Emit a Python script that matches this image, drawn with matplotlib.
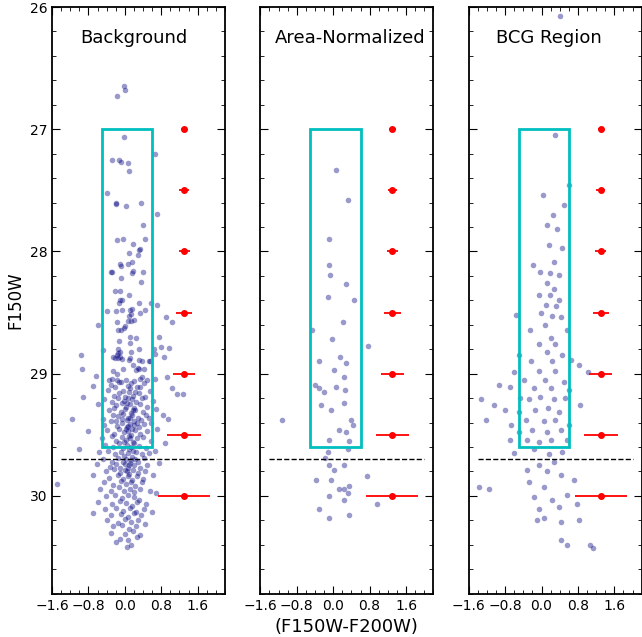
import numpy as np
import matplotlib
matplotlib.use("Agg")
import matplotlib.pyplot as plt
from matplotlib.patches import Rectangle
from matplotlib.ticker import MultipleLocator

# (F150W-F200W, F150W) de cada fuente
fondo = [
    (-0.01, 26.65), (0.0, 26.68), (-0.17, 26.73), (-0.02, 27.06), (0.66, 27.2), (-0.29, 27.25),
    (-0.12, 27.25), (-0.09, 27.27), (0.08, 27.28), (0.09, 27.34), (-0.39, 27.52), (-0.2, 27.6),
    (-0.19, 27.61), (0.02, 27.63), (0.36, 27.6), (0.7, 27.69), (0.39, 27.78), (-0.17, 27.91),
    (-0.03, 27.9), (0.45, 27.9), (0.17, 27.94), (0.33, 27.98),
    (0.09, 28.01), (0.28, 28.03), (0.31, 27.99), (-0.1, 28.1), (-0.09, 28.12), (0.07, 28.1),
    (0.15, 28.09), (-0.31, 28.17), (-0.28, 28.17), (0.17, 28.16), (0.16, 28.18), (0.4, 28.17),
    (-0.08, 28.22), (0.36, 28.25), (-0.22, 28.32), (-0.11, 28.32), (0.09, 28.36), (-0.1, 28.4),
    (-0.13, 28.42), (-0.07, 28.4), (0.31, 28.42), (0.57, 28.42), (0.71, 28.44), (-0.4, 28.49),
    (-0.2, 28.49), (-0.07, 28.48), (0.12, 28.48), (0.15, 28.47), (0.13, 28.51), (0.34, 28.5),
    (0.45, 28.48), (0.9, 28.54), (1.04, 28.58), (0.09, 28.53), (0.06, 28.57), (0.13, 28.57),
    (0.2, 28.56), (-0.17, 28.58), (-0.6, 28.6), (0.0, 28.61), (-0.02, 28.63), (-0.15, 28.64),
    (-0.09, 28.64), (0.11, 28.7), (0.24, 28.71), (-0.13, 28.73), (0.75, 28.7), (0.11, 28.75),
    (0.31, 28.8), (0.64, 28.8), (0.79, 28.78), (0.98, 28.79), (-0.97, 28.85), (-0.48, 28.81),
    (-0.14, 28.8), (-0.1, 28.82), (-0.16, 28.83), (0.14, 28.82), (0.09, 28.89), (0.12, 28.87),
    (-0.26, 28.86), (-0.22, 28.87), (-0.17, 28.85), (-0.14, 28.87), (-0.1, 28.86), (-0.06, 28.88),
    (0.32, 28.89), (0.37, 28.9), (0.52, 28.9), (0.55, 28.9), (0.66, 28.84), (0.86, 28.86),
    (-0.95, 28.96), (-0.04, 28.96), (0.17, 28.93), (0.29, 28.95), (0.24, 28.97), (0.32, 28.96),
    (0.41, 28.96), (-0.26, 28.98), (-0.18, 29.0), (-0.63, 29.02), (-0.35, 29.05), (-0.28, 29.04),
    (-0.17, 29.05), (-0.12, 29.07), (0.03, 29.05), (0.2, 29.06), (0.33, 29.04), (0.38, 29.03),
    (0.48, 29.05), (0.66, 29.04), (0.92, 29.03), (-0.69, 29.1), (1.04, 29.12), (-0.92, 29.19),
    (1.15, 29.17), (1.27, 29.17), (-0.6, 29.25), (0.83, 29.34), (0.95, 29.37), (-1.16, 29.37),
    (-0.31, 29.09), (-0.09, 29.07), (0.06, 29.1), (0.14, 29.08), (0.27, 29.11), (0.43, 29.08),
    (-0.37, 29.13), (-0.21, 29.11), (-0.04, 29.14), (0.11, 29.12), (0.23, 29.15), (0.34, 29.11), (0.56, 29.14),
    (-0.24, 29.18), (-0.13, 29.16), (0.01, 29.19), (0.09, 29.15), (0.17, 29.18), (0.31, 29.16), (0.44, 29.19),
    (-0.46, 29.21), (-0.29, 29.23), (-0.14, 29.2), (-0.02, 29.22), (0.05, 29.24), (0.15, 29.21),
    (0.25, 29.23), (0.37, 29.2), (0.61, 29.22), (0.08, 29.2),
    (-0.19, 29.26), (-0.07, 29.24), (0.03, 29.27), (0.11, 29.25), (0.21, 29.28), (0.33, 29.25), (0.49, 29.27),
    (-0.34, 29.3), (-0.23, 29.28), (-0.09, 29.31), (0.01, 29.29), (0.13, 29.32), (0.23, 29.3),
    (0.39, 29.31), (0.69, 29.29), (0.17, 29.3),
    (-0.27, 29.34), (-0.14, 29.35), (-0.03, 29.33), (0.06, 29.36), (0.16, 29.34), (0.29, 29.36), (0.46, 29.34),
    (-0.49, 29.37), (-0.19, 29.39), (-0.07, 29.37), (0.04, 29.38), (0.11, 29.36), (0.21, 29.39),
    (0.36, 29.38), (0.54, 29.36),
    (-0.46, 29.42), (-0.31, 29.39), (-0.17, 29.43), (-0.06, 29.4), (0.04, 29.44), (0.11, 29.41),
    (0.19, 29.42), (0.27, 29.4), (0.31, 29.44), (0.43, 29.41), (0.57, 29.4), (0.08, 29.43), (0.15, 29.45),
    (-0.82, 29.47), (-0.39, 29.46), (-0.24, 29.49), (-0.12, 29.45), (-0.02, 29.48), (0.06, 29.47),
    (0.14, 29.5), (0.22, 29.46), (0.33, 29.49), (0.49, 29.47), (0.71, 29.45), (0.02, 29.45),
    (-0.51, 29.53), (-0.29, 29.51), (-0.19, 29.55), (-0.07, 29.52), (0.03, 29.54), (0.09, 29.51),
    (0.17, 29.56), (0.26, 29.53), (0.39, 29.52), (0.58, 29.55), (0.12, 29.53), (-0.01, 29.56),
    (-0.43, 29.58), (-0.26, 29.6), (-0.13, 29.57), (-0.03, 29.61), (0.05, 29.58), (0.13, 29.6),
    (0.21, 29.57), (0.31, 29.59), (0.47, 29.61), (0.89, 29.57), (0.09, 29.62), (0.18, 29.63),
    (-1.01, 29.62), (-0.56, 29.64), (-0.36, 29.63), (-0.21, 29.66), (-0.09, 29.64), (-0.01, 29.67),
    (0.08, 29.65), (0.16, 29.68), (0.24, 29.64), (0.37, 29.66), (0.53, 29.65), (0.66, 29.63),
    (-0.47, 29.7), (-0.29, 29.72), (-0.16, 29.69), (-0.05, 29.72), (0.03, 29.7), (0.12, 29.73),
    (0.22, 29.7), (0.29, 29.72), (0.42, 29.69), (0.14, 29.71),
    (-0.61, 29.74), (-0.33, 29.76), (-0.2, 29.74), (-0.1, 29.77), (0.0, 29.74), (0.07, 29.77),
    (0.19, 29.75), (0.33, 29.77), (0.49, 29.75), (0.74, 29.73), (0.1, 29.75),
    (-0.41, 29.8), (-0.23, 29.78), (-0.11, 29.81), (0.01, 29.79), (0.09, 29.82), (0.17, 29.79),
    (0.28, 29.81), (0.44, 29.8), (0.05, 29.8),
    (-0.69, 29.83), (-0.34, 29.85), (-0.14, 29.83), (-0.04, 29.86), (0.07, 29.84), (0.15, 29.87),
    (0.27, 29.84), (0.4, 29.86), (0.61, 29.83),
    (-0.46, 29.89), (-0.26, 29.91), (-0.09, 29.88), (0.03, 29.9), (0.13, 29.89), (0.23, 29.92), (0.37, 29.89),
    (-1.48, 29.9), (-0.54, 29.94), (-0.31, 29.96), (-0.13, 29.93), (-0.01, 29.96), (0.11, 29.94),
    (0.21, 29.97), (0.34, 29.94), (0.56, 29.96),
    (-0.41, 30.0), (-0.21, 29.99), (-0.06, 30.02), (0.07, 29.99), (0.19, 30.01), (0.31, 30.03), (0.69, 29.98),
    (-0.59, 30.05), (-0.29, 30.07), (-0.11, 30.04), (0.03, 30.06), (0.16, 30.08), (0.27, 30.05), (0.46, 30.07),
    (-0.44, 30.11), (-0.19, 30.1), (-0.03, 30.12), (0.11, 30.1), (0.24, 30.13), (0.41, 30.11),
    (-0.71, 30.14), (-0.31, 30.16), (-0.09, 30.15), (0.06, 30.17), (0.19, 30.14), (0.36, 30.16), (0.59, 30.13),
    (-0.39, 30.2), (-0.16, 30.22), (0.01, 30.19), (0.14, 30.21), (0.29, 30.2),
    (-0.26, 30.25), (-0.06, 30.24), (0.09, 30.27), (0.24, 30.25), (0.44, 30.23),
    (-0.31, 30.3), (0.01, 30.31), (0.17, 30.29), (0.34, 30.32),
    (-0.11, 30.35), (0.07, 30.36), (0.26, 30.34), (-0.19, 30.38), (0.14, 30.4), (0.04, 30.42),
]

area_norm = [
    (0.07, 27.33), (0.33, 27.58), (-0.09, 27.9), (-0.09, 28.11), (-0.07, 28.19), (0.28, 28.27),
    (-0.11, 28.37), (0.46, 28.4), (0.22, 28.58), (-0.46, 28.64), (-0.02, 28.72), (0.76, 28.77),
    (0.15, 28.86), (-0.31, 28.9), (0.28, 28.91), (0.02, 28.97), (0.24, 29.03), (-0.41, 29.09),
    (-0.31, 29.12), (-0.2, 29.15), (0.07, 29.11), (0.26, 29.13), (-1.13, 29.38), (-0.26, 29.26),
    (-0.04, 29.3), (0.24, 29.24), (0.39, 29.38), (0.44, 29.42), (0.13, 29.46), (0.28, 29.48),
    (-0.09, 29.54), (0.35, 29.55), (-0.11, 29.64), (-0.17, 29.69), (0.33, 29.62), (-0.09, 29.75),
    (0.02, 29.79), (0.24, 29.75), (-0.04, 29.87), (0.74, 29.84), (-0.37, 29.87), (0.13, 29.94),
    (0.24, 29.94), (0.33, 29.98), (0.35, 29.92), (-0.09, 30.0), (0.24, 30.03), (0.96, 30.07),
    (-0.31, 30.11), (0.35, 30.16), (-0.09, 30.18),
]

bcg = [
    (0.4, 26.07), (0.29, 27.05), (0.6, 27.46), (0.03, 27.54), (0.49, 27.62), (0.25, 27.7),
    (0.12, 27.78), (0.34, 27.82), (0.16, 27.95), (0.45, 27.97), (-0.19, 28.11), (0.27, 28.09),
    (-0.03, 28.17), (0.18, 28.18), (0.38, 28.19), (0.12, 28.26), (0.27, 28.31), (-0.06, 28.36),
    (0.18, 28.36), (0.38, 28.4), (0.1, 28.44), (0.32, 28.45), (-0.56, 28.52), (-0.01, 28.5),
    (0.23, 28.53), (0.42, 28.54), (-0.25, 28.64), (0.07, 28.6), (0.55, 28.64), (0.2, 28.71),
    (-0.06, 28.76), (0.29, 28.76), (-0.49, 28.85), (0.12, 28.82), (0.45, 28.85), (-0.23, 28.9),
    (0.23, 28.9), (0.64, 28.89), (0.82, 28.93), (-0.6, 28.99), (-0.06, 28.98), (0.29, 28.98),
    (-0.38, 29.05), (0.07, 29.05), (0.49, 29.07), (1.03, 28.99), (-0.93, 29.09), (-0.69, 29.11),
    (-0.16, 29.12), (0.2, 29.12), (0.6, 29.13), (-1.32, 29.21), (-1.04, 29.26), (-0.47, 29.2),
    (-0.27, 29.21), (-0.03, 29.19), (0.27, 29.21), (0.51, 29.2), (-0.8, 29.3), (-0.49, 29.31),
    (-0.14, 29.3), (0.14, 29.28), (0.38, 29.31), (0.84, 29.26), (-1.21, 29.38), (-0.67, 29.42),
    (-0.34, 29.38), (0.05, 29.39), (0.29, 29.38), (0.6, 29.42), (-0.49, 29.48), (-0.21, 29.46),
    (0.12, 29.48), (0.42, 29.46), (-0.69, 29.54), (-0.32, 29.54), (-0.06, 29.56), (0.2, 29.54),
    (0.55, 29.54), (-0.6, 29.65), (-0.16, 29.62), (0.16, 29.66), (0.45, 29.64), (-0.06, 29.75),
    (0.27, 29.72), (-0.32, 29.79), (0.12, 29.8), (0.42, 29.83), (-1.37, 29.93), (-1.15, 29.94),
    (-0.27, 29.89), (0.05, 29.93), (0.71, 29.87), (-0.16, 30.01), (0.23, 30.03), (0.55, 29.99),
    (-0.06, 30.11), (0.38, 30.09), (0.77, 30.07), (0.82, 30.2), (0.05, 30.18), (0.42, 30.21),
    (-0.1, 30.2), (0.42, 30.36), (0.55, 30.4), (1.07, 30.4), (1.12, 30.43),
]

# errores fotométricos típicos por magnitud
err_mag = [27.0, 27.5, 28.0, 28.5, 29.0, 29.5, 30.0]
err_color = [0.07, 0.10, 0.12, 0.18, 0.25, 0.37, 0.57]
err_x = 1.3

paneles = [("Background", fondo, -0.98), ("Area-Normalized", area_norm, -1.29),
           ("BCG Region", bcg, -1.0)]

fig, axes = plt.subplots(1, 3, figsize=(6.42, 6.37), dpi=100, sharey=True)
fig.subplots_adjust(left=0.081, right=0.9995, top=0.989, bottom=0.068, wspace=0.204)

for ax, (titulo, datos, xt) in zip(axes, paneles):
    d = np.array(datos)
    ax.scatter(d[:, 0], d[:, 1], s=16, color="navy", alpha=0.4, lw=0)
    ax.add_patch(Rectangle((-0.5, 27.0), 1.1, 2.6, fill=False, ec="c", lw=2, zorder=3))
    ax.hlines(29.7, -1.4, 2.0, colors="k", linestyles="--", lw=1)
    ax.errorbar([err_x] * len(err_mag), err_mag, xerr=err_color, fmt="o", color="r",
                ms=4, elinewidth=1.3, capsize=0)
    ax.text(xt, 26.25, titulo, fontsize=13, va="center")
    ax.set_xlim(-1.6, 2.2)
    ax.set_ylim(30.8, 26)
    ax.xaxis.set_major_locator(MultipleLocator(0.8))
    ax.xaxis.set_minor_locator(MultipleLocator(0.2))
    ax.yaxis.set_major_locator(MultipleLocator(1))
    ax.yaxis.set_minor_locator(MultipleLocator(0.2))
    ax.tick_params(which="both", direction="in", top=True, right=True, labelsize=10)
    ax.tick_params(which="major", length=6)
    ax.tick_params(which="minor", length=3)
    for sp in ax.spines.values():
        sp.set_linewidth(1.3)

axes[0].set_ylabel("F150W", fontsize=12)
axes[1].set_xlabel("(F150W-F200W)", fontsize=13)

plt.savefig("out.png", dpi=100)
